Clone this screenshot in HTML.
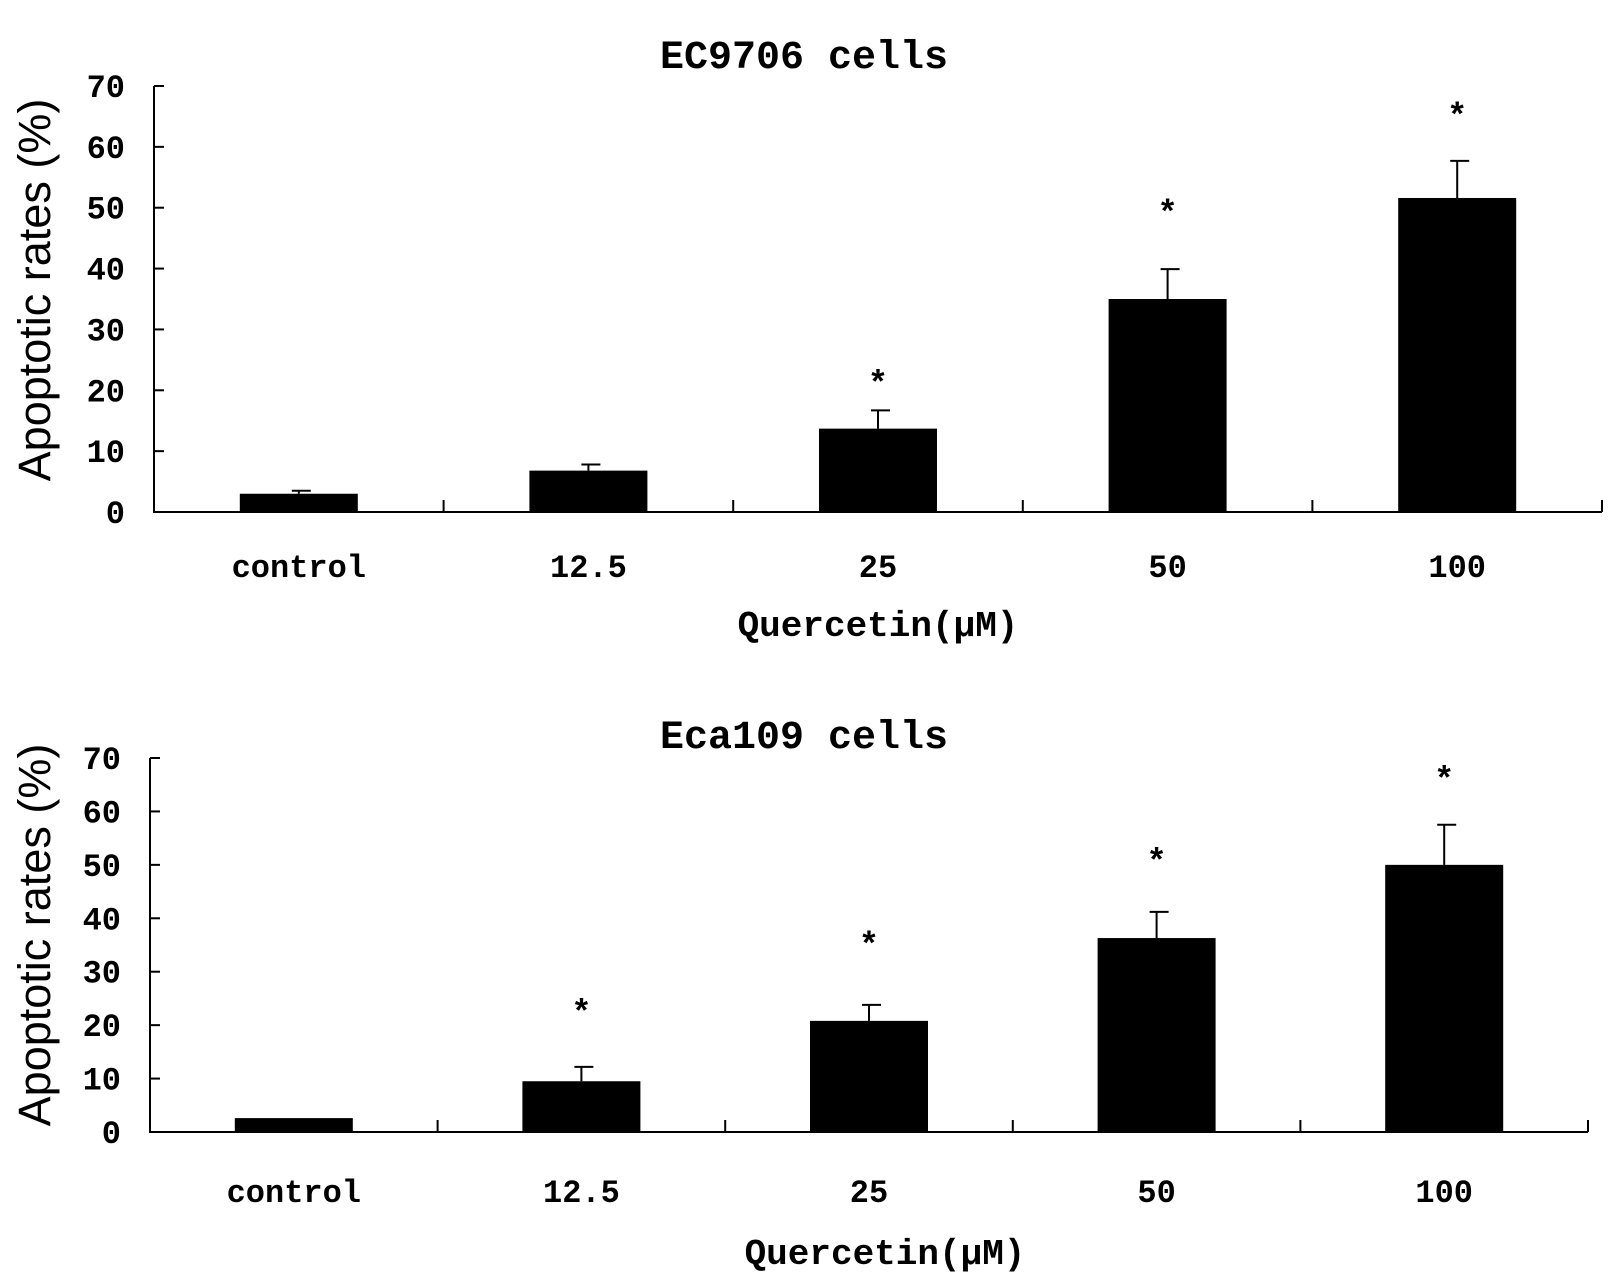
<!DOCTYPE html>
<html><head><meta charset="utf-8"><style>
html,body{margin:0;padding:0;background:#fff}
svg{display:block}
.t{font-family:"Liberation Mono","Liberation Serif",serif;font-weight:bold;fill:#000}
.ya{font-family:"Liberation Sans",sans-serif;fill:#000}
</style></head><body>
<svg id="svg" width="1612" height="1283" viewBox="0 0 1612 1283" xmlns="http://www.w3.org/2000/svg"></svg>
<script>
const categories = ["control","12.5","25","50","100"];
const yTicks = [0,10,20,30,40,50,60,70];
const topValues = [3.0,6.8,13.7,35.0,51.6];
const topErrors = [0.5,1.0,3.0,4.9,6.1];
const topStars = [null,null,22,50,66];
const botValues = [2.6,9.5,20.8,36.3,50.0];
const botErrors = [0,2.7,3.0,4.9,7.5];
const botStars = [null,23.4,36,51.7,67];

const NS="http://www.w3.org/2000/svg";
const svg=document.getElementById('svg');
function mk(tag,attrs,parent){const e=document.createElementNS(NS,tag);for(const k in attrs)e.setAttribute(k,attrs[k]);(parent||svg).appendChild(e);return e;}

function drawChart(cfg){
  const g=mk('g',{});
  
  
  const y=v=>cfg.y0-(v/70)*(cfg.y0-cfg.y70);
  const cw=(cfg.x1-cfg.x0)/categories.length;
  const xc=i=>cfg.x0+cw*(i+0.5);
  const t=mk('text',{x:cfg.titleX,y:cfg.titleY,'text-anchor':'middle','font-size':40,class:'t'},g);
  t.textContent=cfg.title;
  
  
  const ya=mk('line',{x1:cfg.x0,y1:cfg.y70,x2:cfg.x0,y2:cfg.y0,stroke:'#000','stroke-width':2},g);
  
  
  const xa=mk('line',{x1:cfg.x0-1,y1:cfg.y0,x2:cfg.x1,y2:cfg.y0,stroke:'#000','stroke-width':2},g);
  
  
  yTicks.forEach(v=>{
    mk('line',{x1:cfg.x0,y1:y(v),x2:cfg.x0+10,y2:y(v),stroke:'#000','stroke-width':2},g);
    const l=mk('text',{x:cfg.x0-29,y:y(v)+11,'text-anchor':'end','font-size':32,class:'t'},g);
    l.textContent=v;
    
    
  });
  for(let i=1;i<=categories.length;i++){
    mk('line',{x1:cfg.x0+cw*i,y1:cfg.y0,x2:cfg.x0+cw*i,y2:cfg.y0-12,stroke:'#000','stroke-width':2},g);
  }
  const yt=mk('text',{x:0,y:0,'text-anchor':'middle','font-size':45,class:'ya',transform:`translate(${cfg.ytX},${cfg.ytY}) rotate(-90)`},g);
  yt.textContent='Apoptotic rates (%)';
  
  
  const bw=118;
  categories.forEach((c,i)=>{
    const v=cfg.values[i], e=cfg.errors[i];
    if(e>0){
      const el=mk('path',{d:`M${xc(i)},${y(v)} V${y(v+e)} M${xc(i)-7},${y(v+e)} H${xc(i)+12}`,stroke:'#000','stroke-width':2,fill:'none'},g);
      
      
    }
    const b=mk('rect',{x:xc(i)-bw/2,y:y(v),width:bw,height:cfg.y0-y(v),fill:'#000'},g);
    
    
    if(cfg.stars[i]!==null){
      const s=mk('text',{x:xc(i),y:y(cfg.stars[i])+16,'text-anchor':'middle','font-size':34,class:'t'},g);
      s.textContent='*';
      
      
    }
    const l=mk('text',{x:xc(i),y:cfg.labY,'text-anchor':'middle','font-size':32,class:'t'},g);
    l.textContent=c;
    
    
  });
  const xt=mk('text',{x:cfg.xtX,y:cfg.xtY,'text-anchor':'middle','font-size':36,class:'t'},g);
  xt.textContent='Quercetin(μM)';
  
  
}
drawChart({name:'ec9706-chart',title:'EC9706 cells',titleX:804,titleY:68,x0:154,x1:1602,y0:512,y70:86,
  values:topValues,errors:topErrors,stars:topStars,labY:577,xtX:878,xtY:636,ytX:50,ytY:290});
drawChart({name:'eca109-chart',title:'Eca109 cells',titleX:804,titleY:748,x0:150,x1:1588,y0:1132,y70:758,
  values:botValues,errors:botErrors,stars:botStars,labY:1202,xtX:885,xtY:1264,ytX:50,ytY:935});
</script>
</body></html>
